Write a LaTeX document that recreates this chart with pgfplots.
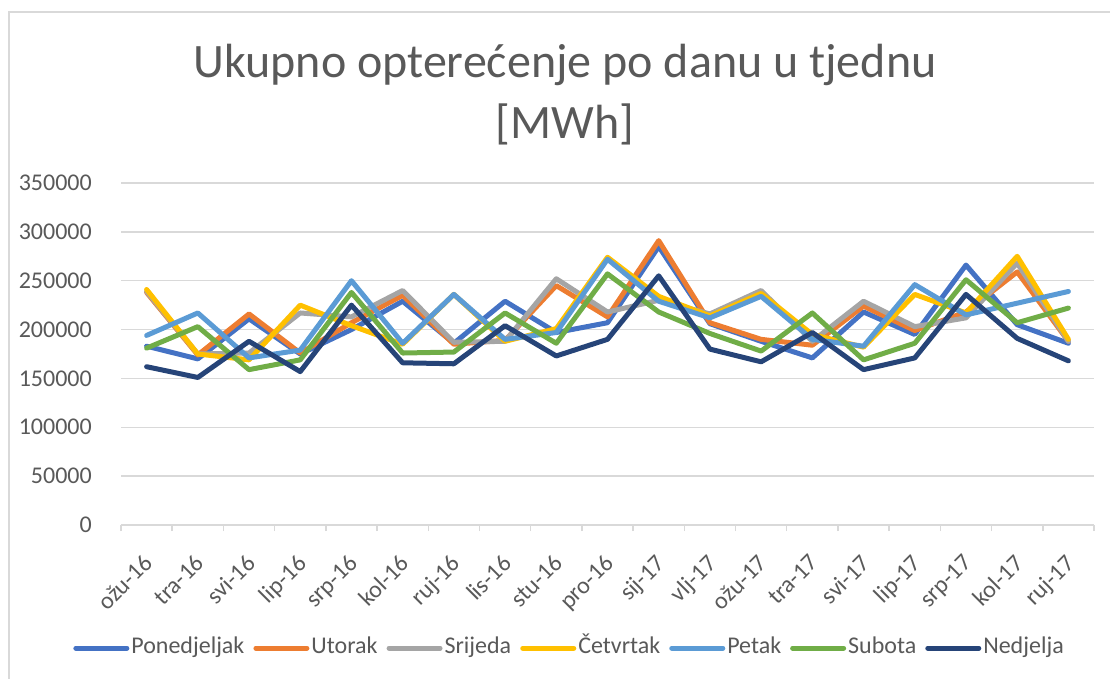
\documentclass[border=0pt]{standalone}
\usepackage{pgfplots}
\pgfplotsset{compat=1.18}
\usepackage{pgfplotstable}
\usepackage{fontspec}
\setmainfont{Carlito}
\definecolor{cPon}{HTML}{4472C4}
\definecolor{cUto}{HTML}{ED7D31}
\definecolor{cSri}{HTML}{A5A5A5}
\definecolor{cCet}{HTML}{FFC000}
\definecolor{cPet}{HTML}{5B9BD5}
\definecolor{cSub}{HTML}{70AD47}
\definecolor{cNed}{HTML}{264478}
\definecolor{txt}{HTML}{595959}
\definecolor{grd}{HTML}{D9D9D9}
\pgfplotstableread{
i Pon Uto Sri Cet Pet Sub Ned
0 183000 238000 239000 241000 194000 181000 162000
1 170000 174000 175000 175000 217000 203000 151000
2 211000 216000 176000 169000 171000 159000 188000
3 175000 176000 217000 225000 179000 169000 157000
4 200000 207000 213000 204000 250000 238000 225000
5 229000 235000 240000 185000 186000 176000 166000
6 186000 185000 187000 236000 236000 177000 165000
7 229000 189000 188000 188000 190000 217000 204000
8 197000 245000 252000 201000 197000 186000 173000
9 207000 213000 218000 274000 272000 257000 190000
10 285000 291000 230000 234000 229000 218000 255000
11 206000 207000 216000 214000 212000 196000 180000
12 188000 190000 240000 237000 234000 178000 167000
13 171000 184000 188000 195000 190000 217000 197000
14 218000 224000 229000 182000 183000 169000 159000
15 195000 199000 203000 236000 246000 186000 171000
16 266000 218000 212000 217000 215000 251000 236000
17 205000 259000 268000 275000 227000 207000 191000
18 186000 188000 188000 190000 239000 222000 168000
}\data
\begin{document}
\begin{tikzpicture}[x=1pt,y=1pt]
\useasboundingbox (0,0) rectangle (1110,-679);
\draw[grd, line width=1.5pt] (9,-679) -- (9,-12) -- (1110,-12);
\node[anchor=base, text=txt, font=\fontsize{48}{58}\selectfont] at (565,-78) {Ukupno opterećenje po danu u tjednu};
\node[anchor=base, text=txt, font=\fontsize{48}{58}\selectfont] at (565,-139) {[MWh]};
\begin{axis}[
  at={(121pt,-525pt)}, anchor=south west,
  scale only axis, width=973pt, height=342pt,
  xmin=-0.5, xmax=18.5, ymin=0, ymax=350000,
  axis x line*=bottom, axis y line*=left,
  x axis line style={-, draw=grd, line width=1.5pt},
  y axis line style={draw=none},
  ytick={0,50000,...,350000},
  scaled y ticks=false,
  yticklabel={\pgfmathprintnumber[fixed,1000 sep={},assume math mode=true]{\tick}},
  ymajorgrids, grid style={draw=grd, line width=1.5pt},
  ytick style={draw=none},
  xtick style={draw=grd, line width=1.5pt},
  major tick length=6pt, tick align=outside,
  xtick={-0.5,0.5,...,18.5},
  x tick label as interval,
  xticklabels={ožu-16,tra-16,svi-16,lip-16,srp-16,kol-16,ruj-16,lis-16,stu-16,pro-16,sij-17,vlj-17,ožu-17,tra-17,svi-17,lip-17,srp-17,kol-17,ruj-17},
  xticklabel style={anchor=north east, inner sep=0pt, xshift=-4pt, yshift=-22pt, rotate=45},
  yticklabel style={anchor=east, inner sep=0pt, xshift=-23pt},
  tick label style={font=\fontsize{24}{28}\selectfont, text=txt},
  legend columns=7,
  legend style={at={(0.461,-0.36)}, anchor=center, draw=none, fill=none,
    font=\fontsize{24}{28}\selectfont, text=txt,
    nodes={text height=17pt, text depth=6pt},
    /tikz/every even column/.append style={column sep=7pt}, inner sep=0pt},
  legend cell align=left,
  legend image code/.code={\draw[#1, line width=5pt, line cap=round] (0pt,0pt) -- (51pt,0pt);},
  every axis plot/.append style={line width=5pt, line join=round, line cap=round, mark=none},
]
\addplot[cPon] table[x=i,y=Pon]{\data};
\addplot[cUto] table[x=i,y=Uto]{\data};
\addplot[cSri] table[x=i,y=Sri]{\data};
\addplot[cCet] table[x=i,y=Cet]{\data};
\addplot[cPet] table[x=i,y=Pet]{\data};
\addplot[cSub] table[x=i,y=Sub]{\data};
\addplot[cNed] table[x=i,y=Ned]{\data};
\legend{Ponedjeljak,Utorak,Srijeda,Četvrtak,Petak,Subota,Nedjelja}
\end{axis}
\end{tikzpicture}
\end{document}
